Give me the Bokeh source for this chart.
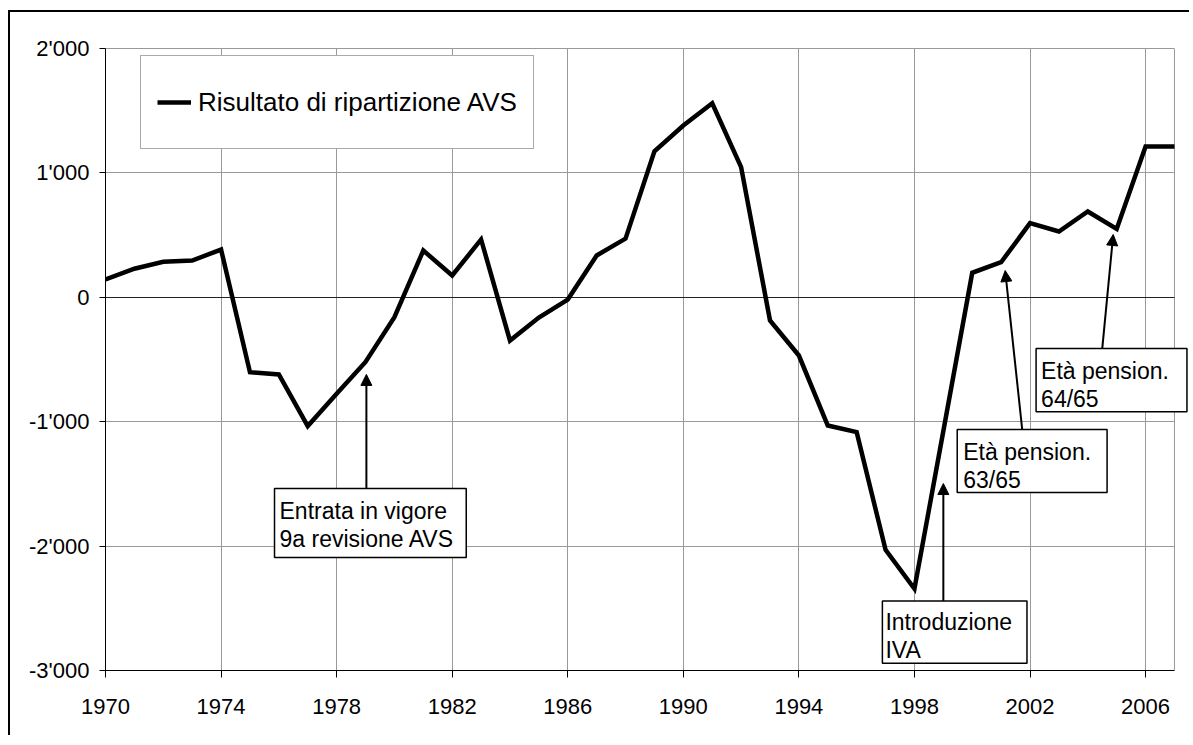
from bokeh.plotting import figure
from bokeh.models import (Range1d, FixedTicker, Span, Label, Arrow, Grid, LinearAxis,
                          NormalHead, Legend, LegendItem)
from bokeh.embed import file_html
from bokeh.resources import INLINE

# ---- data ----
years = list(range(1970, 2008))
values = [143, 230, 285, 295, 384, -602, -620, -1035, -775, -520,
          -160, 376, 175, 465, -348, -163, -18, 336, 472, 1174,
          1381, 1560, 1046, -186, -468, -1031, -1084, -2030, -2343, -1075,
          197, 282, 596, 529, 690, 550, 1212, 1212]
series_name = "Risultato di ripartizione AVS"

x_ticks = [1970, 1974, 1978, 1982, 1986, 1990, 1994, 1998, 2002, 2006]
y_ticks = [-3000, -2000, -1000, 0, 1000, 2000]
y_tick_labels = ["-3'000", "-2'000", "-1'000", "0", "1'000", "2'000"]

note_texts = ["Entrata in vigore\n9a revisione AVS", "Introduzione\nIVA",
              "Età pension.\n63/65", "Età pension.\n64/65"]
# box top-left corner in data units
note_anchor = [(1975.85, -1537), (1996.89, -2442), (1999.48, -1063), (2002.21, -412)]
# box padding around text, px (left, right, top, bottom)
note_pad = [(5, 12, 9, 6), (3, 15, 8, 0), (6, 16, 9, 0), (5, 18, 9, 0)]
# arrow: (x_start, y_start, x_end, y_end)
note_arrows = [(1979.03, -1537, 1979.03, -620),
               (1999.00, -2442, 1999.00, -1497),
               (2001.73, -1063, 2001.14, 215),
               (2004.50, -412, 2004.88, 505)]

FONT = "Liberation Sans"
X0, X1 = 1970, 2007          # extent of the plotted area
X_VIEW_END = 2007.52         # a little room on the right for the last note box

p = figure(width=1181, height=725, output_backend="svg", toolbar_location=None,
           x_range=Range1d(X0, X_VIEW_END), y_range=Range1d(-3000, 2000),
           min_border_left=95, min_border_right=2, min_border_top=36,
           min_border_bottom=67)
p.styles = {"border-top": "2px solid black", "border-left": "2px solid black",
            "margin-top": "10px", "margin-left": "8px"}

p.outline_line_color = None
p.background_fill_color = "white"
p.border_fill_color = "white"

# axes
p.xaxis.ticker = FixedTicker(ticks=x_ticks)
p.xaxis.bounds = (X0, X1)
p.yaxis.ticker = FixedTicker(ticks=y_ticks)
p.yaxis.major_label_overrides = dict(zip(y_ticks, y_tick_labels))
for ax in (p.xaxis, p.yaxis):
    ax.axis_line_color = "black"
    ax.axis_line_width = 1
    ax.major_tick_line_color = "black"
    ax.major_tick_in = 0
    ax.minor_tick_line_color = None
    ax.major_label_text_font = FONT
    ax.major_label_text_font_size = "22px"
    ax.major_label_text_color = "black"
p.xaxis.major_tick_out = 7
p.yaxis.major_tick_out = 6
p.xaxis.major_label_standoff = 21
p.yaxis.major_label_standoff = 10

# top edge of the plot area (grey)
top_edge = LinearAxis(bounds=(X0, X1), ticker=FixedTicker(ticks=[]),
                      axis_line_color="#999999", axis_line_width=1,
                      major_tick_line_color=None, minor_tick_line_color=None,
                      major_label_text_font_size="0px")
p.add_layout(top_edge, "above")
# right edge of the plot area (grey)
p.add_layout(Span(location=X1, dimension="height", line_color="#999999",
                  line_width=1, level="underlay"))

# grid
has_cb = "cross_bounds" in Grid.properties()
p.xgrid.ticker = FixedTicker(ticks=x_ticks)
p.ygrid.ticker = FixedTicker(ticks=y_ticks)
p.grid.grid_line_color = "#9a9a9a"
p.grid.grid_line_width = 1
if has_cb:
    p.ygrid.cross_bounds = (X0, X1)
zero_grid = Grid(dimension=1, ticker=FixedTicker(ticks=[0]),
                 grid_line_color="#222222", grid_line_width=1)
if has_cb:
    zero_grid.cross_bounds = (X0, X1)
p.add_layout(zero_grid)

r = p.line(years, values, line_color="black", line_width=4.5, line_join="miter")

legend = Legend(items=[LegendItem(label=series_name, renderers=[r])],
                location=(35, 521), margin=0, padding=16, spacing=0,
                label_height=60, glyph_width=34, glyph_height=20, label_standoff=7,
                label_text_font=FONT, label_text_font_size="26px",
                label_text_color="black",
                border_line_color="#555555", border_line_width=1.5,
                background_fill_color="white", background_fill_alpha=1)
p.add_layout(legend)

for txt, (tx, ty), (pl, pr, pt, pb), (xs, ys, xe, ye) in zip(
        note_texts, note_anchor, note_pad, note_arrows):
    p.add_layout(Arrow(x_start=xs, y_start=ys, x_end=xe, y_end=ye,
                       line_color="black", line_width=2,
                       end=NormalHead(size=11, fill_color="black",
                                      line_color="black", line_width=1)))
    p.add_layout(Label(x=tx, y=ty, text=txt,
                       text_baseline="top", text_align="left",
                       text_font=FONT, text_font_size="23px", text_color="black",
                       text_line_height=1.08,
                       padding=dict(left=pl, right=pr, top=pt, bottom=pb),
                       border_line_color="black", border_line_width=1.5,
                       background_fill_color="white", background_fill_alpha=1))

open("out.html", "w").write(file_html(p, INLINE))
